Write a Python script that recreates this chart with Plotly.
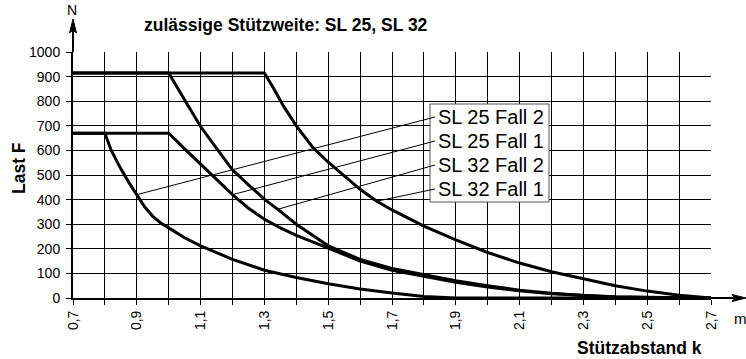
import plotly.graph_objects as go

# ---- data -------------------------------------------------------------
# Stützabstand k in m, Last F in N
sl25_fall2_k = [0.70, 0.80, 0.82, 0.85, 0.875, 0.90, 0.925, 0.95, 0.975, 1.00, 1.05, 1.10, 1.20,
                1.30, 1.40, 1.50, 1.60, 1.70, 1.80, 1.90, 2.00, 2.70]
sl25_fall2_f = [670, 670, 600, 525, 470, 420, 370, 332, 305, 285, 245, 212, 157,
                113, 83, 58, 37, 20, 6, 0, 0, 0]

sl25_fall1_k = [0.70, 1.00, 1.05, 1.10, 1.15, 1.20, 1.25, 1.30, 1.35, 1.40, 1.50, 1.60, 1.70,
                1.80, 1.90, 2.00, 2.10, 2.20, 2.30, 2.40, 2.50, 2.60, 2.70]
sl25_fall1_f = [670, 670, 606, 545, 482, 420, 365, 320, 285, 255, 203, 150, 113,
                90, 64, 45, 29, 17, 9, 4, 2, 1, 0]

sl32_fall2_k = [0.70, 1.00, 1.05, 1.10, 1.15, 1.20, 1.25, 1.30, 1.35, 1.40, 1.50, 1.60, 1.70,
                1.80, 1.90, 2.00, 2.10, 2.20, 2.30, 2.40, 2.50, 2.60, 2.70]
sl32_fall2_f = [915, 915, 805, 697, 608, 521, 460, 402, 352, 300, 212, 157, 120,
                95, 70, 50, 32, 19, 10, 5, 2, 1, 0]

sl32_fall1_k = [0.70, 1.30, 1.33, 1.36, 1.40, 1.45, 1.50, 1.55, 1.60, 1.65, 1.70, 1.80, 1.90,
                2.00, 2.10, 2.20, 2.30, 2.40, 2.50, 2.60, 2.70]
sl32_fall1_f = [915, 915, 850, 780, 700, 615, 552, 495, 442, 395, 358, 292, 236,
                185, 142, 107, 77, 50, 28, 11, 0]

series_names = ["SL 25 Fall 2", "SL 25 Fall 1", "SL 32 Fall 2", "SL 32 Fall 1"]
# point on each curve where its label's leader line ends (k, F)
leader_k = [0.90, 1.20, 1.34, 1.651]
leader_f = [420, 420, 360, 393]

x_ticks_first, x_ticks_step = 0.7, 0.2
title_text = "zulässige Stützweite: SL 25, SL 32"
x_title, y_title = "Stützabstand k", "Last F"
x_unit, y_unit = "m", "N"

# ---- geometry ---------------------------------------------------------
W, H = 746, 359
ML, MR, MT, MB = 73, 35, 52, 61
X_MIN, X_MAX, Y_MIN, Y_MAX = 0.7, 2.7, 0, 1000
PW, PH = W - ML - MR, H - MT - MB


def px_x(px):
    """pixel column -> k value"""
    return X_MIN + (px - ML) / PW * (X_MAX - X_MIN)


def px_y(py):
    """pixel row -> F value"""
    return Y_MIN + (H - MB - py) / PH * (Y_MAX - Y_MIN)


def paper_x(px):
    return (px - ML) / PW


def paper_y(py):
    return (H - MB - py) / PH


FONT = "Liberation Sans, Arial, Helvetica, sans-serif"
BLACK = "#000000"

fig = go.Figure()

# label box behind the leader lines
box_l, box_r, box_t, box_b = 430, 549, 104, 202
fig.add_shape(type="rect", xref="x", yref="y",
              x0=px_x(box_l), x1=px_x(box_r), y0=px_y(box_b), y1=px_y(box_t),
              fillcolor="white", line=dict(color="#555555", width=1), layer="between")

# leader lines from each label to its curve
label_rows = [117, 141, 165, 189]
lead_start_x = px_x(435)
for name, row, k, f in zip(series_names, label_rows, leader_k, leader_f):
    fig.add_trace(go.Scatter(x=[lead_start_x, k], y=[px_y(row), f], mode="lines",
                             line=dict(color=BLACK, width=1), hoverinfo="skip",
                             showlegend=False))

curves = [(sl25_fall2_k, sl25_fall2_f), (sl25_fall1_k, sl25_fall1_f),
          (sl32_fall2_k, sl32_fall2_f), (sl32_fall1_k, sl32_fall1_f)]
for name, (kx, fy) in zip(series_names, curves):
    fig.add_trace(go.Scatter(x=kx, y=fy, mode="lines", name=name,
                             line=dict(color=BLACK, width=3), showlegend=False))

# axis extensions with arrow heads (paper coordinates, may leave the plot area)
ax_px, ay_px = ML, H - MB          # origin of the axes in pixels
y_tip, x_tip = 19, 746
fig.add_shape(type="line", xref="paper", yref="paper",
              x0=paper_x(ax_px), y0=paper_y(MT), x1=paper_x(ax_px), y1=paper_y(y_tip + 8),
              line=dict(color=BLACK, width=2), layer="above")
fig.add_shape(type="path", xref="paper", yref="paper", layer="above",
              path="M {} {} L {} {} L {} {} L {} {} Z".format(
                  paper_x(ax_px), paper_y(y_tip),
                  paper_x(ax_px - 3.5), paper_y(y_tip + 14),
                  paper_x(ax_px), paper_y(y_tip + 11),
                  paper_x(ax_px + 3.5), paper_y(y_tip + 14)),
              fillcolor=BLACK, line=dict(color=BLACK, width=1))
fig.add_shape(type="line", xref="paper", yref="paper",
              x0=paper_x(W - MR), y0=paper_y(ay_px), x1=paper_x(x_tip - 8), y1=paper_y(ay_px),
              line=dict(color=BLACK, width=2), layer="above")
fig.add_shape(type="path", xref="paper", yref="paper", layer="above",
              path="M {} {} L {} {} L {} {} L {} {} Z".format(
                  paper_x(x_tip), paper_y(ay_px),
                  paper_x(x_tip - 14), paper_y(ay_px - 3.5),
                  paper_x(x_tip - 11), paper_y(ay_px),
                  paper_x(x_tip - 14), paper_y(ay_px + 3.5)),
              fillcolor=BLACK, line=dict(color=BLACK, width=1))

annotations = []
for name, row in zip(series_names, label_rows):
    annotations.append(dict(text=name, xref="paper", yref="paper",
                            x=paper_x(436), y=paper_y(row), xanchor="left", yanchor="middle",
                            showarrow=False, font=dict(family=FONT, size=20, color=BLACK)))

annotations.append(dict(text=y_unit, xref="paper", yref="paper", x=paper_x(72), y=paper_y(10),
                        xanchor="center", yanchor="middle",
                        showarrow=False, font=dict(family=FONT, size=14, color=BLACK)))
annotations.append(dict(text=x_unit, xref="paper", yref="paper", x=paper_x(740), y=paper_y(318),
                        xanchor="center", yanchor="middle",
                        showarrow=False, font=dict(family=FONT, size=15, color=BLACK)))

annotations.append(dict(text="<b>%s</b>" % title_text, xref="paper", yref="paper",
                        x=paper_x(142), y=paper_y(25), xanchor="left", yanchor="middle",
                        showarrow=False, font=dict(family=FONT, size=17.5, color=BLACK)))
annotations.append(dict(text="<b>%s</b>" % x_title, xref="paper", yref="paper",
                        x=paper_x(704), y=paper_y(348), xanchor="right", yanchor="middle",
                        showarrow=False, font=dict(family=FONT, size=17.5, color=BLACK)))
annotations.append(dict(text="<b>%s</b>" % y_title, xref="paper", yref="paper",
                        x=paper_x(19), y=paper_y(168), xanchor="center", yanchor="middle",
                        textangle=-90, showarrow=False,
                        font=dict(family=FONT, size=17.5, color=BLACK)))

fig.update_layout(
    width=W, height=H,
    margin=dict(l=ML, r=MR, t=MT, b=MB, pad=0),
    paper_bgcolor="white", plot_bgcolor="white",
    separators=",.",
    showlegend=False,
    annotations=annotations,
    font=dict(family=FONT, size=14, color=BLACK),
    xaxis=dict(range=[X_MIN, X_MAX], tick0=x_ticks_first, dtick=x_ticks_step,
               tickformat=".1f", tickangle=-90,
               ticks="outside", ticklen=5, tickwidth=1, tickcolor=BLACK,
               showgrid=True, gridcolor=BLACK, gridwidth=1,
               minor=dict(dtick=0.1, tick0=x_ticks_first, showgrid=True, gridcolor=BLACK,
                          gridwidth=1, ticks="outside", ticklen=5, tickcolor=BLACK),
               showline=True, linecolor=BLACK, linewidth=2, zeroline=False,
               tickfont=dict(family=FONT, size=14, color=BLACK)),
    yaxis=dict(range=[Y_MIN, Y_MAX], dtick=100,
               ticks="outside", ticklen=5, tickwidth=1, tickcolor=BLACK,
               ticklabelstandoff=3,
               showgrid=True, gridcolor=BLACK, gridwidth=1,
               showline=True, linecolor=BLACK, linewidth=2, zeroline=False,
               tickfont=dict(family=FONT, size=14, color=BLACK)),
)

fig.write_html("out.html")
